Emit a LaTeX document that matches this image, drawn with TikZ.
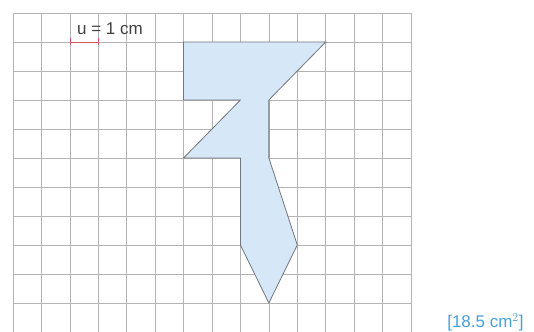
\documentclass[tikz,border=0pt]{standalone}
\usepackage{fontspec}
\setmainfont{Liberation Sans}
\usetikzlibrary{arrows.meta}

\definecolor{gridgray}{RGB}{180,180,180}
\definecolor{shapefill}{RGB}{214,232,248}
\definecolor{shapeline}{RGB}{115,118,124}
\definecolor{unitred}{RGB}{214,90,100}
\definecolor{answerblue}{RGB}{70,160,215}

\tikzset{
  gridline/.style={draw=gridgray, line width=0.7pt},
  figure/.style={fill=shapefill, draw=shapeline, line width=0.8pt, line join=miter},
  unitbar/.style={draw=unitred, line width=0.7pt, {Bar[width=7pt]}-{Bar[width=7pt]}},
  unittext/.style={text=black!75, font=\fontsize{17}{20}\selectfont, inner sep=0pt},
  answer/.style={text=answerblue, font=\fontsize{17}{20}\selectfont, inner sep=0pt}
}

\begin{document}
\begin{tikzpicture}[x=1cm,y=1.02cm]
  % --- Page (same margins as the sheet) ---
  \useasboundingbox (-0.457,0.448) rectangle (18.326,-11);

  % --- Parameters ---
  \def\ncol{14}   % squares across
  \def\nrow{11}   % squares down

  % --- Squared paper ---
  \foreach \i in {0,...,\ncol}
    \draw[gridline] (\i,0) -- (\i,-\nrow);
  \foreach \j in {0,...,\nrow}
    \draw[gridline] (0,-\j) -- (\ncol,-\j);

  % --- Corners of the figure (grid units, rows counted downwards) ---
  \coordinate (A) at (6,-1);
  \coordinate (B) at (11,-1);
  \coordinate (C) at (9,-3);
  \coordinate (D) at (9,-5);
  \coordinate (E) at (10,-8);
  \coordinate (F) at (9,-10);
  \coordinate (G) at (8,-8);
  \coordinate (H) at (8,-5);
  \coordinate (I) at (6,-5);
  \coordinate (J) at (8,-3);
  \coordinate (K) at (6,-3);

  % --- Figure ---
  \path[figure] (A) -- (B) -- (C) -- (D) -- (E) -- (F) -- (G)
                -- (H) -- (I) -- (J) -- (K) -- cycle;

  % --- Unit length ---
  \coordinate (u0) at (2,-1);
  \coordinate (u1) at (3,-1);
  \draw[unitbar] (u0) -- (u1);
  \node[unittext, anchor=west] (unitlabel) at (2.25,-0.55) {u = 1 cm};

  % --- Answer ---
  \node[answer, anchor=south west] (area) at (15.27,-10.97) {[18.5 cm$^2$]};
\end{tikzpicture}
\end{document}
